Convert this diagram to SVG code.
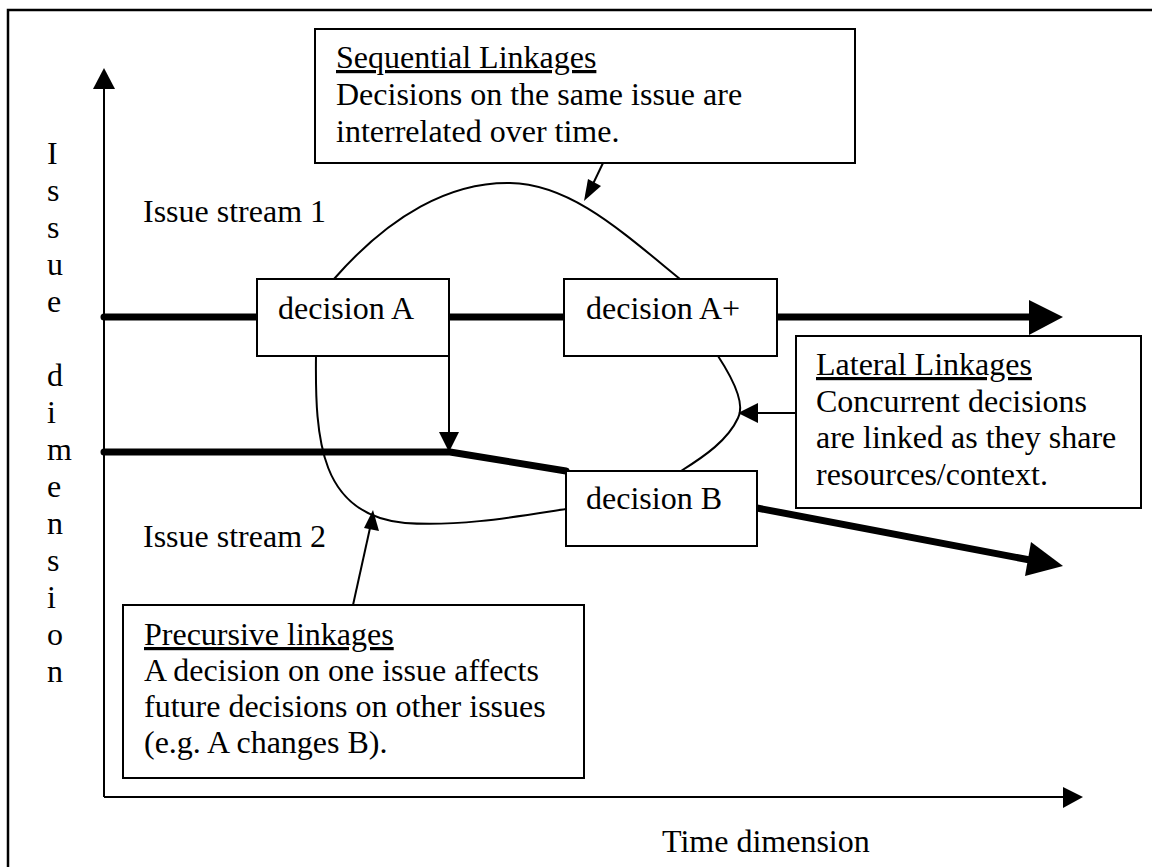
<svg xmlns="http://www.w3.org/2000/svg" width="1152" height="867" viewBox="0 0 1152 867">
<style>
text{font-family:"Liberation Serif","Times New Roman",serif;font-size:32px;fill:#000}
.u{text-decoration:underline}
.box{fill:#fff;stroke:#000;stroke-width:2}
.thin{fill:none;stroke:#000;stroke-width:2}
.thick{fill:none;stroke:#000;stroke-width:7;stroke-linecap:round;stroke-linejoin:round}
.head{fill:#000;stroke:none}
</style>
<rect width="1152" height="867" fill="#fff"/>
<path d="M8,867 V10 H1152" fill="none" stroke="#000" stroke-width="2.5"/>
<g id="axes">
<line x1="104" y1="86" x2="104" y2="797" class="thin"/>
<polygon class="head" points="104,68 115,89 93,89"/>
<line x1="104" y1="797" x2="1065" y2="797" class="thin"/>
<polygon class="head" points="1083,797 1063,787 1063,808"/>
<text x="47" y="164">I</text><text x="47" y="201">s</text><text x="47" y="238">s</text><text x="47" y="275">u</text><text x="47" y="312">e</text>
<text x="47" y="386">d</text><text x="47" y="423">i</text><text x="47" y="460">m</text><text x="47" y="497">e</text><text x="47" y="534">n</text><text x="47" y="571">s</text><text x="47" y="608">i</text><text x="47" y="645">o</text><text x="47" y="682">n</text>
<text x="662" y="852">Time dimension</text>
</g>
<g id="labels">
<text x="143" y="222">Issue stream 1</text>
<text x="143" y="547">Issue stream 2</text>
</g>
<g id="connectors">
<path class="thick" d="M104,317 H257"/>
<path class="thick" d="M449,317 H564"/>
<path class="thick" d="M777,317 H1032"/>
<polygon class="head" points="1029,300 1063,317 1029,335"/>
<path class="thick" d="M104,452 H450 L566,471"/>
<path class="thick" d="M757,508 L1030,560"/>
<polygon class="head" points="1031,542 1063,566 1025,576"/>
<path class="thin" d="M334,279 C390,215 450,182 510,183 C570,184 620,230 680,279"/>
<line x1="603" y1="163" x2="592" y2="186" class="thin"/>
<polygon class="head" points="584,201 588,179 601,186"/>
<path class="thin" d="M718,356 C735,382 745,405 738,418 C728,440 705,456 681,471"/>
<line x1="796" y1="413" x2="756" y2="413" class="thin"/>
<polygon class="head" points="738,413 758,403 758,423"/>
<line x1="449" y1="356" x2="449" y2="434" class="thin"/>
<polygon class="head" points="439,432 459,432 449,452"/>
<path class="thin" d="M316,356 C315,440 320,515 405,523 C460,527 520,516 566,509"/>
<line x1="353" y1="605" x2="370" y2="528" class="thin"/>
<polygon class="head" points="373,510 379,531 364,528"/>
</g>
<g id="decisionA">
<rect class="box" x="257" y="279" width="192" height="77"/>
<text x="278" y="319">decision A</text>
</g>
<g id="decisionAplus">
<rect class="box" x="564" y="279" width="213" height="77"/>
<text x="586" y="319">decision A+</text>
</g>
<g id="decisionB">
<rect class="box" x="566" y="471" width="191" height="75"/>
<text x="586" y="509">decision B</text>
</g>
<g id="sequential">
<rect class="box" x="315" y="29" width="540" height="134"/>
<text x="336" y="68" class="u">Sequential Linkages</text>
<text x="336" y="105">Decisions on the same issue are</text>
<text x="336" y="142">interrelated over time.</text>
</g>
<g id="lateral">
<rect class="box" x="796" y="336" width="345" height="172"/>
<text x="816" y="375" class="u">Lateral Linkages</text>
<text x="816" y="412">Concurrent decisions</text>
<text x="816" y="448">are linked as they share</text>
<text x="816" y="485">resources/context.</text>
</g>
<g id="precursive">
<rect class="box" x="123" y="605" width="461" height="173"/>
<text x="144" y="645" class="u">Precursive linkages</text>
<text x="144" y="681">A decision on one issue affects</text>
<text x="144" y="717">future decisions on other issues</text>
<text x="144" y="753">(e.g. A changes B).</text>
</g>
</svg>
